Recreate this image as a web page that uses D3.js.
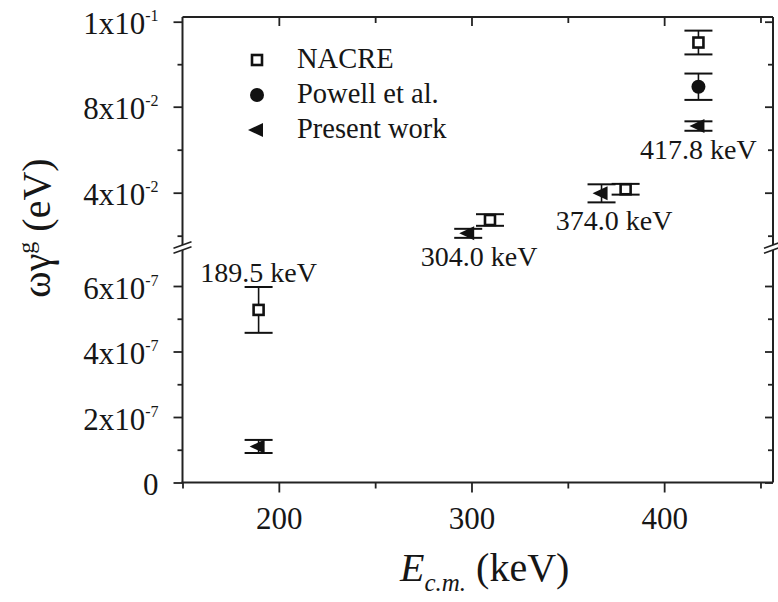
<!DOCTYPE html>
<html>
<head>
<meta charset="utf-8">
<script src="https://cdn.jsdelivr.net/npm/d3@7"></script>
<style>
  body { margin: 0; background: #fff; }
  svg { display: block; }
</style>
</head>
<body>
<div id="chart"></div>
<script>
// Resonance strengths, broken y-axis (two linear segments)

const resonanceLabels = ["189.5 keV", "304.0 keV", "374.0 keV", "417.8 keV"];
const resonanceE = [189.5, 304.0, 374.0, 417.8];

const nacreE = [189.5, 309.6, 380.0, 417.8];
const nacreStrength = [5.27e-7, 0.0273, 0.0416, 0.0951];
const nacreErr = [0.70e-7, 0.0027, 0.0025, 0.0028];

const powellE = [417.8];
const powellStrength = [0.0847];
const powellErr = [0.0031];

const presentE = [189.5, 298.3, 367.5, 417.8];
const presentStrength = [1.1e-7, 0.0211, 0.0397, 0.0710];
const presentErr = [0.2e-7, 0.0021, 0.0042, 0.0022];

const xMajor = [200, 300, 400];
const xMinor = [150, 250, 350, 450];
const upperMajor = [0.1, 0.08, 0.04];
const upperLabels = [["1x10", "-1"], ["8x10", "-2"], ["4x10", "-2"]];
const upperMinor = [0.09, 0.06, 0.02];
const lowerMajor = [0, 2e-7, 4e-7, 6e-7];
const lowerLabels = [["0", ""], ["2x10", "-7"], ["4x10", "-7"], ["6x10", "-7"]];
const lowerMinor = [1e-7, 3e-7, 5e-7];
const legendNames = ["NACRE", "Powell et al.", "Present work"];
const legendShapes = ["square", "circle", "triangle"];

const width = 778, height = 602;
const L = 182.5, R = 773, T = 17, B = 482.5;
const breakTop = 245, breakBot = 250;
const ink = "#111";
const txt = "#161616";
const serif = "'Liberation Serif', 'Times New Roman', Times, serif";

const x = d3.scaleLinear().domain([150, 456.5]).range([L, R]);
// upper segment is piecewise as in the original figure
const yUp = d3.scaleLinear().domain([0.04, 0.08, 0.1]).range([192.7, 106.7, 21.7]);
const yLo = d3.scaleLinear().domain([0, 6e-7]).range([B, 286]);
const y = (v) => (v > 1e-3 ? yUp(v) : yLo(v));

const svg = d3.select("#chart").append("svg")
  .attr("width", width)
  .attr("height", height)
  .style("font-family", serif);

// frame with breaks
const frame = svg.append("g").attr("stroke", "#222").attr("stroke-width", 2).attr("fill", "none");
frame.append("line").attr("x1", L).attr("x2", R).attr("y1", T).attr("y2", T);
frame.append("line").attr("x1", L - 1).attr("x2", R).attr("y1", B).attr("y2", B);
[L, R].forEach((cx) => {
  frame.append("line").attr("x1", cx).attr("x2", cx).attr("y1", T).attr("y2", breakTop);
  frame.append("line").attr("x1", cx).attr("x2", cx).attr("y1", breakBot).attr("y2", B);
  [breakTop, breakBot].forEach((yb) => {
    frame.append("line")
      .attr("x1", cx - 9).attr("y1", yb + 3.3)
      .attr("x2", cx + 9).attr("y2", yb - 3.3)
      .attr("stroke-width", 1.6);
  });
});

function styleAxis(g) {
  g.attr("font-family", null);
  g.select(".domain").remove();
  g.selectAll(".tick line").attr("stroke", "#222").attr("stroke-width", 1.8);
}

function label(sel) {
  return sel.style("font-family", serif).attr("fill", txt);
}

// bottom axis
svg.append("g")
  .attr("transform", `translate(0,${B})`)
  .call(d3.axisBottom(x).tickValues(xMajor).tickSize(10).tickPadding(14))
  .call(styleAxis)
  .call((g) => label(g.selectAll("text")).attr("font-size", 31));
svg.append("g")
  .attr("transform", `translate(0,${B})`)
  .call(d3.axisBottom(x).tickValues(xMinor).tickSize(6).tickFormat(""))
  .call(styleAxis);

// top axis, inward ticks
svg.append("g")
  .attr("transform", `translate(0,${T})`)
  .call(d3.axisBottom(x).tickValues(xMajor).tickSize(9).tickFormat(""))
  .call(styleAxis);
svg.append("g")
  .attr("transform", `translate(0,${T})`)
  .call(d3.axisBottom(x).tickValues(xMinor.slice(1)).tickSize(6).tickFormat(""))
  .call(styleAxis);

// left axis, both segments, plus mirrored right axis
function yAxes(scale, major, labels, minor) {
  const g = svg.append("g")
    .attr("transform", `translate(${L},0)`)
    .call(d3.axisLeft(scale).tickValues(major).tickSize(9).tickFormat(""))
    .call(styleAxis);
  g.selectAll(".tick").each(function (d, i) {
    const t = label(d3.select(this).append("text"))
      .attr("x", -24)
      .attr("y", 12)
      .attr("text-anchor", "end")
      .attr("font-size", 31);
    t.append("tspan").text(labels[i][0]);
    if (labels[i][1]) {
      t.append("tspan").attr("dy", -13).attr("font-size", 16).text(labels[i][1]);
    }
  });
  svg.append("g")
    .attr("transform", `translate(${L},0)`)
    .call(d3.axisLeft(scale).tickValues(minor).tickSize(5).tickFormat(""))
    .call(styleAxis);
  svg.append("g")
    .attr("transform", `translate(${R},0)`)
    .call(d3.axisLeft(scale).tickValues(major).tickSize(8).tickFormat(""))
    .call(styleAxis);
  svg.append("g")
    .attr("transform", `translate(${R},0)`)
    .call(d3.axisLeft(scale).tickValues(minor).tickSize(5).tickFormat(""))
    .call(styleAxis);
}
yAxes(yUp, upperMajor, upperLabels, upperMinor);
yAxes(yLo, lowerMajor, lowerLabels, lowerMinor);

// markers
function marker(sel, shape) {
  if (shape === "square") {
    sel.append("rect")
      .attr("x", -5).attr("y", -5).attr("width", 10).attr("height", 10)
      .attr("fill", "#fff").attr("stroke", ink).attr("stroke-width", 2.6);
  } else if (shape === "circle") {
    sel.append("circle").attr("r", 7).attr("fill", ink);
  } else {
    sel.append("path").attr("d", "M-9,0L6,-7L6,7Z").attr("fill", ink);
  }
}

function series(E, vals, errs, shape) {
  const pts = E.map((e, i) => ({ e, v: vals[i], err: errs[i] }));
  const bars = svg.append("g").attr("stroke", ink).attr("fill", "none");
  pts.forEach((p) => {
    const cx = x(p.e);
    const y1 = y(p.v + p.err), y2 = y(p.v - p.err);
    bars.append("line").attr("x1", cx).attr("x2", cx).attr("y1", y1).attr("y2", y2).attr("stroke-width", 1.6);
    [y1, y2].forEach((yy) => {
      bars.append("line").attr("x1", cx - 14).attr("x2", cx + 14).attr("y1", yy).attr("y2", yy).attr("stroke-width", 2);
    });
  });
  svg.append("g").selectAll("g")
    .data(pts)
    .join("g")
    .attr("transform", (p) => `translate(${x(p.e)},${y(p.v)})`)
    .each(function () { marker(d3.select(this), shape); });
}
series(nacreE, nacreStrength, nacreErr, "square");
series(powellE, powellStrength, powellErr, "circle");
series(presentE, presentStrength, presentErr, "triangle");

// resonance energy labels
resonanceE.forEach((e, i) => {
  let ty;
  if (i === 0) {
    ty = y(nacreStrength[0] + nacreErr[0]) - 5;
  } else {
    ty = y(presentStrength[i] - presentErr[i]) + 28;
  }
  label(svg.append("text"))
    .attr("x", x(e))
    .attr("y", ty)
    .attr("text-anchor", "middle")
    .attr("font-size", 28)
    .text(resonanceLabels[i]);
});

// legend
const legend = svg.append("g").attr("transform", "translate(257,60)");
legendNames.forEach((name, i) => {
  const row = legend.append("g").attr("transform", `translate(0,${i * 35})`);
  marker(row, legendShapes[i]);
  label(row.append("text")).attr("x", 40).attr("y", 8).attr("font-size", 28.5).text(name);
});

// axis titles
const xt = label(svg.append("text"))
  .attr("x", 400)
  .attr("y", 581)
  .attr("font-size", 40);
xt.append("tspan").attr("font-style", "italic").text("E");
xt.append("tspan").attr("font-style", "italic").attr("font-size", 25).attr("dy", 10).text("c.m.");
xt.append("tspan").attr("dy", -10).text(" (keV)");

const yt = label(svg.append("text"))
  .attr("transform", "translate(50,228) rotate(-90)")
  .attr("text-anchor", "middle")
  .attr("font-size", 40);
yt.append("tspan").text("ωγ");
yt.append("tspan").attr("font-size", 24).attr("dy", -16).text("g");
yt.append("tspan").attr("dy", 16).text(" (eV)");
</script>
</body>
</html>
